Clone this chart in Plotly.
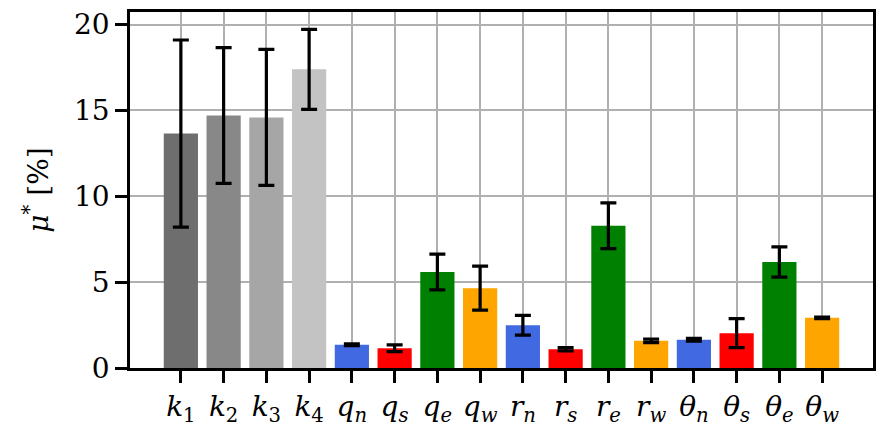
import plotly.graph_objects as go

labels = ["<i>k</i><sub>1</sub>", "<i>k</i><sub>2</sub>", "<i>k</i><sub>3</sub>", "<i>k</i><sub>4</sub>",
          "<i>q<sub>n</sub></i>", "<i>q<sub>s</sub></i>", "<i>q<sub>e</sub></i>", "<i>q<sub>w</sub></i>",
          "<i>r<sub>n</sub></i>", "<i>r<sub>s</sub></i>", "<i>r<sub>e</sub></i>", "<i>r<sub>w</sub></i>",
          "<i>θ<sub>n</sub></i>", "<i>θ<sub>s</sub></i>", "<i>θ<sub>e</sub></i>", "<i>θ<sub>w</sub></i>"]
mu_star = [13.65, 14.70, 14.59, 17.39, 1.35, 1.15, 5.59, 4.65, 2.49, 1.09, 8.28, 1.58, 1.64, 2.03, 6.17, 2.92]
mu_err = [5.45, 3.95, 3.96, 2.33, 0.05, 0.2, 1.04, 1.28, 0.57, 0.1, 1.33, 0.1, 0.08, 0.84, 0.88, 0.05]
colors = ["#6e6e6e", "#888888", "#a6a6a6", "#c3c3c3",
          "#4169e1", "#ff0000", "#008000", "#ffa500",
          "#4169e1", "#ff0000", "#008000", "#ffa500",
          "#4169e1", "#ff0000", "#008000", "#ffa500"]
y_ticks = [0, 5, 10, 15, 20]

fig = go.Figure()
fig.add_trace(go.Bar(
    x=labels, y=mu_star, width=0.8,
    marker=dict(color=colors, line=dict(width=0)),
    error_y=dict(type="data", array=mu_err, visible=True, color="black", thickness=3.2, width=8),
))

font = "DejaVu Serif"
fig.update_layout(
    template="none",
    width=885, height=442,
    margin=dict(l=130, r=12, t=12, b=74),
    paper_bgcolor="white", plot_bgcolor="white",
    font=dict(family=font, size=28, color="black"),
    showlegend=False,
    bargap=0.2,
)
fig.update_xaxes(
    type="category", range=[-1.19, 16.19],
    showgrid=True, gridcolor="#b0b0b0", gridwidth=2,
    showline=True, linecolor="black", linewidth=2.5, mirror=True,
    ticks="outside", ticklen=12, tickwidth=3, tickcolor="black",
    tickfont=dict(family=font, size=28, color="black"),
)
fig.update_yaxes(
    range=[0, 20.73], tickvals=y_ticks, ticktext=[str(v) for v in y_ticks],
    showgrid=True, gridcolor="#b0b0b0", gridwidth=2, zeroline=False,
    showline=True, linecolor="black", linewidth=2.5, mirror=True,
    ticks="outside", ticklen=12, tickwidth=3, tickcolor="black",
    tickfont=dict(family=font, size=28, color="black"),
    title=dict(text="<i>μ</i><sup>*</sup> [%]", font=dict(family=font, size=28, color="black"), standoff=18),
)
fig.write_html("out.html")
